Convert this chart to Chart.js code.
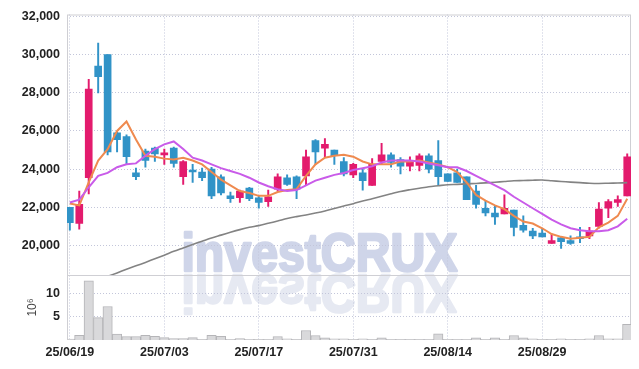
<!DOCTYPE html>
<html>
<head>
<meta charset="utf-8">
<script src="https://cdn.jsdelivr.net/npm/chart.js@4"></script>
<style>
  html, body { margin: 0; padding: 0; background: #fff; }
  #wrap { position: relative; width: 639px; height: 369px; }
</style>
</head>
<body>
<div id="wrap"><canvas id="chart"></canvas></div>
<script>
// daily prices, 60 trading days (25/06/19 .. 25/09/11)
const opens = [22000, 21150, 23550, 29400, 30000, 25900, 25700, 23800, 24950, 25100,
  24750, 25100, 23600, 23950, 23850, 24000, 23600, 22600, 22500, 23000,
  22500, 22300, 22950, 23550, 23600, 23650, 25500, 25100, 25000, 24400,
  23700, 23800, 23150, 24400, 24750, 24500, 24150, 24200, 24700, 24450,
  23750, 23800, 23600, 22850, 21950, 21700, 21650, 21850, 21050, 20750,
  20650, 20100, 20400, 20250, 20450, 20500, 21000, 21950, 22250, 22600];
const highs = [22000, 22850, 28700, 30600, 30000, 25950, 25800, 24050, 25050, 25150,
  25050, 25150, 24450, 24250, 24050, 24100, 23700, 22800, 22900, 23050,
  22600, 22900, 23750, 23700, 23650, 25000, 25550, 25600, 25000, 24600,
  24300, 24000, 24550, 25350, 24850, 24600, 24650, 24800, 24800, 25500,
  23750, 24000, 23600, 23150, 22350, 22100, 22650, 21850, 21550, 20900,
  20900, 20600, 20450, 20500, 20950, 20950, 22250, 22400, 22600, 24800];
const lows = [20800, 20850, 22700, 28000, 24750, 24900, 24250, 23450, 24100, 24400,
  24250, 24100, 23200, 23300, 23400, 22450, 22650, 22250, 22250, 22350,
  21950, 22050, 22850, 23150, 22450, 23150, 24250, 24650, 24250, 23650,
  23550, 22900, 23150, 24250, 24100, 23750, 23900, 23900, 23800, 23150,
  23350, 23300, 22400, 21950, 21550, 21100, 21650, 20500, 20700, 20350,
  20450, 20100, 19850, 20050, 20150, 20350, 20900, 21450, 22050, 22600];
const closes = [21200, 22150, 28200, 28850, 24900, 25550, 24650, 23600, 24450, 24800,
  24850, 24300, 24400, 23850, 23550, 22600, 22750, 22450, 22850, 22450,
  22250, 22550, 23600, 23200, 22950, 24650, 24900, 25300, 24700, 23750,
  24250, 23400, 24250, 24750, 24350, 24150, 24350, 24700, 24000, 23600,
  23350, 23300, 22400, 22150, 21700, 21500, 21950, 20950, 20800, 20500,
  20450, 20250, 20200, 20100, 20350, 20750, 21900, 22300, 22400, 24650];

// moving averages
const ma5 = [22200, 22100, 23300, 24450, 25050, 26000, 26500, 25550, 24700, 24650,
  24550, 24500, 24600, 24450, 24250, 23850, 23450, 23150, 22850, 22750,
  22600, 22600, 22800, 22900, 22950, 23650, 24250, 24600, 24700, 24750,
  24650, 24400, 24250, 24250, 24250, 24400, 24400, 24450, 24350, 24250,
  24100, 23850, 23300, 22650, 22350, 22100, 21900, 21550, 21250, 21150,
  20900, 20600, 20450, 20350, 20400, 20450, 20950, 21200, 21550, 22450];
const ma10 = [22250, 22400, 23050, 23650, 23800, 24100, 24250, 24300, 24700, 25050,
  25300, 25450, 25050, 24600, 24450, 24250, 24050, 23900, 23750, 23550,
  23300, 23100, 22950, 22850, 22900, 23150, 23400, 23550, 23700, 23800,
  23950, 24050, 24150, 24350, 24450, 24450, 24450, 24400, 24300, 24200,
  24100, 24100, 23900, 23650, 23400, 23150, 22900, 22550, 22250, 21950,
  21650, 21350, 21100, 20900, 20800, 20750, 20750, 20800, 21000, 21400];
const maLong = [17650, 17800, 18000, 18200, 18380, 18560, 18750, 18930, 19110, 19300,
  19490, 19690, 19870, 20050, 20220, 20390, 20540, 20690, 20830, 20950,
  21040, 21160, 21280, 21410, 21510, 21600, 21700, 21810, 21940, 22070,
  22190, 22330, 22450, 22580, 22710, 22830, 22920, 23000, 23080, 23130,
  23180, 23200, 23230, 23250, 23280, 23310, 23350, 23390, 23400, 23420,
  23430, 23390, 23350, 23320, 23290, 23260, 23250, 23260, 23270, 23290];

// volume, millions of shares
const volumes = [0.2, 1.0, 12.7, 4.8, 7.2, 1.3, 0.75, 0.75, 1.0, 0.8,
  0.5, 0.3, 0.3, 0.5, 0.1, 1.0, 0.8, 0.15, 0.3, 0.15,
  0.1, 0.1, 0.75, 0.26, 0.1, 2.05, 0.97, 0.47, 0.26, 0.26,
  0.1, 0.26, 0.1, 0.47, 0.1, 0.1, 0.1, 0.1, 0.1, 1.34,
  0.1, 0.1, 0.1, 0.47, 0.1, 0.47, 0.1, 0.97, 0.47, 0.26,
  0.1, 0.1, 0.26, 0.1, 0.1, 0.26, 0.97, 0.26, 0.26, 3.35];

const tickIdx = [0, 10, 20, 30, 40, 50];
const tickLabels = ["25/06/19", "25/07/03", "25/07/17", "25/07/31", "25/08/14", "25/08/29"];
const priceTicks = [20000, 22000, 24000, 26000, 28000, 30000, 32000];
const volTicks = [5, 10];

const UP = "#e31b6d";
const DOWN = "#3193c7";
const tickFont = { family: "'Liberation Sans', Arial, sans-serif", size: 12.5, weight: "bold" };

const candleColors = opens.map((o, i) => (closes[i] >= o ? UP : DOWN));
const pts = (arr) => arr.map((v, i) => ({ x: i, y: v }));

// keep each dataset inside its own panel
const panelClip = {
  id: "panelClip",
  beforeDatasetDraw(chart, args) {
    const { xScale, yScale } = args.meta;
    const ctx = chart.ctx;
    ctx.save();
    ctx.beginPath();
    ctx.rect(xScale.left, yScale.top, xScale.width, yScale.height);
    ctx.clip();
  },
  afterDatasetDraw(chart) {
    chart.ctx.restore();
  },
};

// watermark with reflection
const watermark = {
  id: "watermark",
  beforeDraw(chart) {
    const ctx = chart.ctx;
    const cx = chart.width / 2;
    const base = 271;
    ctx.save();
    ctx.font = "bold 53px 'Liberation Sans', Arial, sans-serif";
    ctx.textAlign = "center";
    ctx.textBaseline = "alphabetic";
    ctx.lineJoin = "round";
    ctx.lineWidth = 2.5;
    ctx.translate(cx, base);
    ctx.scale(0.91, 1);
    ctx.fillStyle = ctx.strokeStyle = "#cfd5e9";
    ctx.fillText("investCRUX", 0, 0);
    ctx.strokeText("investCRUX", 0, 0);
    ctx.scale(1, -1);
    ctx.translate(0, -4);
    ctx.fillStyle = ctx.strokeStyle = "#e6e9f2";
    ctx.fillText("investCRUX", 0, 0);
    ctx.strokeText("investCRUX", 0, 0);
    ctx.restore();
  },
};

// outer frame and panel separator
const frame = {
  id: "frame",
  beforeDatasetsDraw(chart) {
    const { ctx, chartArea } = chart;
    const sep = chart.scales.y.bottom;
    ctx.save();
    ctx.strokeStyle = "#cfcfd4";
    ctx.lineWidth = 1;
    ctx.strokeRect(chartArea.left + 0.5, chartArea.top + 0.5,
      chartArea.width - 1, chartArea.height - 1);
    ctx.beginPath();
    ctx.moveTo(chartArea.left, Math.round(sep) + 0.5);
    ctx.lineTo(chartArea.right, Math.round(sep) + 0.5);
    ctx.stroke();
    ctx.restore();
  },
};

const gridOpts = { color: "#c3c6da", lineWidth: 1, drawTicks: false, offset: false };
const borderOpts = { display: false, dash: [1, 2] };

new Chart(document.getElementById("chart"), {
  type: "bar",
  data: {
    datasets: [
      {
        type: "line", data: pts(ma10), yAxisID: "y", borderColor: "#c95be9",
        borderWidth: 2, pointRadius: 0, tension: 0, order: 0,
      },
      {
        type: "line", data: pts(ma5), yAxisID: "y", borderColor: "#ef8a4f",
        borderWidth: 2, pointRadius: 0, tension: 0, order: 0,
      },
      {
        type: "line", data: pts(maLong), yAxisID: "y", borderColor: "#838383",
        borderWidth: 1.6, pointRadius: 0, tension: 0.3, order: 0,
      },
      {
        data: lows.map((l, i) => ({ x: i, y: [l, highs[i]] })), yAxisID: "y",
        backgroundColor: candleColors, barThickness: 1.3, grouped: false, order: 1,
      },
      {
        data: opens.map((o, i) => ({ x: i, y: [o, closes[i]] })), yAxisID: "y",
        backgroundColor: candleColors, barThickness: 7, minBarLength: 2,
        grouped: false, order: 1,
      },
      {
        data: pts(volumes), yAxisID: "v", backgroundColor: "#d9d9db",
        borderColor: "#b5b5b8", borderWidth: 1, barThickness: 9.4,
        grouped: false, order: 2,
      },
    ],
  },
  options: {
    responsive: true,
    maintainAspectRatio: false,
    animation: false,
    layout: { padding: { top: 13, right: 8, left: 0, bottom: 0 } },
    plugins: { legend: { display: false }, tooltip: { enabled: false } },
    scales: {
      x: {
        type: "linear",
        offset: false,
        min: -0.3,
        max: 59.4,
        grid: gridOpts,
        border: borderOpts,
        afterBuildTicks: (s) => { s.ticks = tickIdx.map((v) => ({ value: v })); },
        afterFit: (s) => { s.height = 29; },
        ticks: {
          font: tickFont, color: "#222", padding: 5, maxRotation: 0, autoSkip: false,
          callback: (v) => tickLabels[tickIdx.indexOf(v)],
        },
      },
      v: {
        position: "left",
        stack: "panels",
        stackWeight: 1,
        min: 0,
        max: 14,
        grid: gridOpts,
        border: borderOpts,
        afterBuildTicks: (s) => { s.ticks = volTicks.map((v) => ({ value: v })); },
        afterFit: (s) => { s.width = 67; },
        ticks: { font: tickFont, color: "#222", padding: 7 },
        title: {
          display: true, text: "10⁶", color: "#444",
          font: { family: "'Liberation Sans', Arial, sans-serif", size: 12 },
          padding: { top: 25, bottom: 0 },
        },
      },
      y: {
        position: "left",
        stack: "panels",
        stackWeight: 4,
        min: 18456,
        max: 32104,
        grid: gridOpts,
        border: borderOpts,
        afterBuildTicks: (s) => { s.ticks = priceTicks.map((v) => ({ value: v })); },
        afterFit: (s) => { s.width = 67; },
        ticks: {
          font: tickFont, color: "#222", padding: 7,
          callback: (v) => v.toLocaleString("en-US"),
        },
      },
    },
  },
  plugins: [watermark, frame, panelClip],
});
</script>
</body>
</html>
